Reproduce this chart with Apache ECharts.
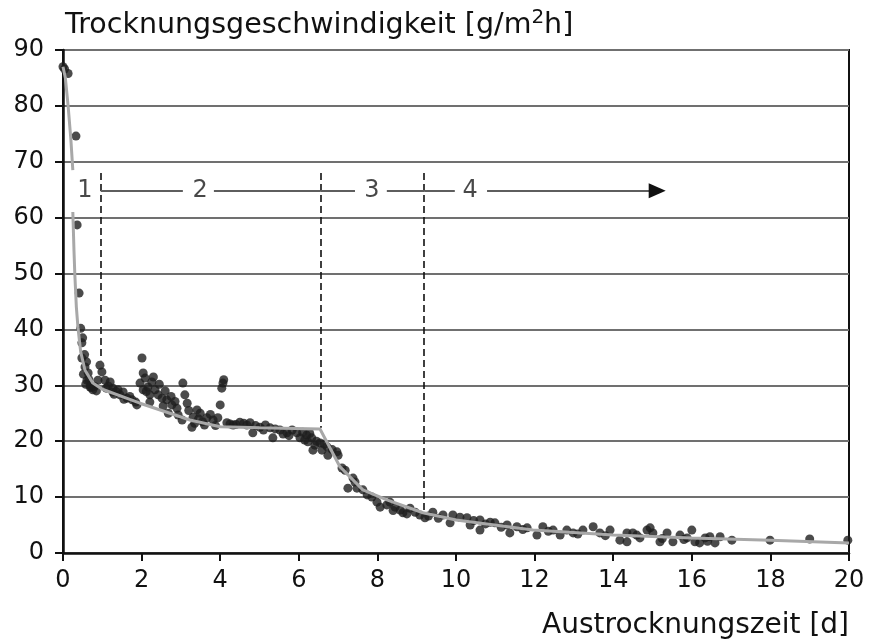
<!DOCTYPE html>
<html>
<head>
<meta charset="utf-8">
<script src="https://cdn.jsdelivr.net/npm/echarts@6/dist/echarts.min.js"></script>
<style>
  html, body { margin: 0; padding: 0; background: #fff; }
  #chart { width: 869px; height: 642px; }
</style>
</head>
<body>
<div id="chart"></div>
<script>
// Messpunkte: Austrocknungszeit [d] / Trocknungsgeschwindigkeit [g/m2h]
const pointT = [0.0, 0.04, 0.13, 0.33, 0.36, 0.41, 0.45, 0.5, 0.48, 0.48, 0.56, 0.64, 0.61, 0.69, 0.76, 0.7,
  0.55, 0.6, 0.66, 0.72, 0.8, 0.94, 0.99, 0.89, 1.07, 1.2, 1.27, 1.4, 1.53, 1.27, 1.45, 1.63, 1.76, 1.88,
  1.1, 1.3, 1.55, 1.7, 2.01, 2.04, 1.96, 2.09, 2.16, 2.26, 2.04, 2.21, 2.34, 2.42, 2.52, 2.64, 2.21, 2.77,
  2.9, 2.3, 2.45, 2.6, 2.75, 2.85, 3.05, 3.1, 3.16, 2.93, 3.03, 3.28, 3.31, 3.41, 3.49, 3.66, 3.82, 3.94,
  3.2, 3.35, 3.6, 3.75, 4.0, 4.04, 4.07, 4.09, 4.17, 4.33, 4.5, 4.68, 4.76, 4.83, 5.01, 5.15, 5.27, 5.34,
  4.25, 4.6, 4.9, 5.4, 5.6, 5.52, 5.7, 5.83, 5.95, 6.03, 6.1, 6.2, 6.23, 6.33, 6.41, 6.36, 6.54, 6.59,
  6.72, 6.74, 6.97, 7.0, 6.45, 6.65, 6.85, 7.1, 7.18, 7.38, 7.43, 7.25, 7.48, 7.63, 7.74, 7.86, 7.99,
  8.07, 8.24, 8.32, 8.45, 8.58, 8.65, 8.83, 8.96, 9.08, 9.21, 9.41, 9.67, 9.85, 9.92, 10.1, 10.28, 10.36,
  10.61, 10.61, 10.87, 10.99, 11.3, 11.37, 11.55, 11.81, 12.06, 12.21, 12.47, 12.65, 12.82, 12.98, 13.23,
  13.49, 13.66, 13.92, 14.17, 14.35, 14.6, 14.86, 14.35, 14.5, 14.68, 14.94, 15.01, 15.19, 15.37, 15.52,
  15.7, 15.88, 16.0, 16.08, 16.2, 16.34, 16.46, 16.59, 16.72, 17.02, 17.99, 19.0, 19.97,
  0.52, 0.58, 0.85, 1.15, 1.35, 1.85, 2.12, 2.55, 2.68, 3.45, 3.55, 3.88, 4.4, 5.1, 5.75, 6.15, 6.28,
  8.4, 8.75, 9.3, 9.55, 10.45, 10.75, 11.15, 11.7, 12.35, 13.1, 13.8, 15.25, 15.8, 16.4];
const pointV = [87.0, 86.6, 85.8, 74.6, 58.7, 46.5, 40.2, 38.5, 37.6, 34.9, 33.3, 32.2, 30.9, 29.7, 29.2, 30.0,
  35.5, 34.2, 31.0, 29.6, 29.8, 33.6, 32.4, 30.9, 30.9, 30.6, 29.5, 29.2, 28.8, 28.8, 28.3, 27.7, 27.4, 26.5,
  29.5, 28.4, 27.5, 28.0, 34.9, 32.2, 30.4, 31.3, 29.7, 30.6, 29.2, 28.3, 29.2, 28.3, 27.7, 27.4, 27.0, 26.5,
  25.9, 31.5, 30.2, 29.0, 28.0, 27.1, 30.4, 28.3, 26.8, 24.7, 23.8, 22.5, 24.3, 25.6, 25.0, 24.2, 23.8, 24.2,
  25.5, 23.2, 22.9, 24.8, 26.5, 29.5, 30.4, 31.0, 23.3, 22.9, 23.4, 22.9, 23.3, 21.5, 22.5, 22.9, 22.4, 20.6,
  23.1, 23.2, 22.8, 22.2, 21.3, 22.0, 21.5, 22.0, 21.5, 20.6, 21.6, 21.1, 19.9, 20.6, 19.3, 18.4, 19.7, 18.4,
  19.0, 17.5, 18.1, 17.5, 20.0, 19.5, 18.5, 15.2, 14.8, 13.4, 12.7, 11.6, 11.6, 11.3, 10.4, 10.0, 9.1,
  8.2, 8.6, 9.1, 8.2, 7.7, 7.2, 8.0, 7.3, 6.8, 6.3, 7.3, 6.8, 5.4, 6.8, 6.4, 6.3, 5.0,
  4.1, 5.9, 5.5, 5.4, 5.0, 3.6, 4.7, 4.5, 3.2, 4.7, 4.1, 3.2, 4.1, 3.6, 4.1,
  4.7, 3.6, 4.1, 2.3, 3.6, 3.2, 4.1, 2.0, 3.6, 2.7, 4.5, 3.6, 2.0, 3.6, 2.0,
  3.2, 2.7, 4.1, 2.0, 1.8, 2.7, 2.9, 1.8, 2.9, 2.3, 2.3, 2.5, 2.3,
  32.0, 30.2, 29.0, 29.9, 28.9, 27.0, 28.9, 26.3, 25.0, 24.0, 23.5, 22.8, 23.0, 22.0, 21.0, 20.2, 21.4,
  7.6, 7.0, 6.6, 6.2, 5.8, 5.2, 4.6, 4.2, 3.9, 3.4, 3.1, 2.6, 2.4, 2.1];

// Ausgleichskurve (null = Lücke)
const fitT = [0, 0.06, 0.13, 0.2, 0.25, 0.25, 0.25, 0.28, 0.3, 0.34, 0.38, 0.45, 0.56, 0.76, 1.0, 1.96,
  3.23, 4.0, 5.0, 6.54, 7.05, 7.63, 8.24, 9.16, 10.0, 11.96, 14.0, 16.0, 18.0, 20.0];
const fitV = [87, 85, 80, 74, 68.5, null, 61, 54, 50, 44, 40.4, 36, 32.7, 30.4, 29.3, 26.8,
  23.8, 22.6, 22.4, 22.2, 15.4, 11.3, 9.5, 7.2, 5.9, 4.1, 3.2, 2.7, 2.3, 1.8];

// Phasen
const phaseBorderT = [0.96, 6.56, 9.19];
const phaseBorderBottom = [34.5, 22.4, 7.3];
const phaseBorderTop = 68;
const phaseNames = ['1', '2', '3', '4'];
const phaseNameT = [0.56, 3.49, 7.86, 10.36];
const phaseLevel = 64.8;
const phaseLineFrom = [0.96, 3.84, 6.56, 8.24, 9.19, 10.79];
const phaseLineTo = [3.05, 6.56, 7.43, 9.19, 9.97, 15.0];
const arrowT = 15.12;

const chart = echarts.init(document.getElementById('chart'));
const font = 'DejaVu Sans';

const borderLines = phaseBorderT.map((t, i) => [
  { coord: [t, phaseBorderTop] },
  { coord: [t, phaseBorderBottom[i]] }
]);
const phaseLines = phaseLineFrom.map((t, i) => [
  { coord: [t, phaseLevel] },
  { coord: [phaseLineTo[i], phaseLevel] }
]);

const option = {
  animation: false,
  backgroundColor: '#fff',
  grid: {
    left: 63, right: 20, top: 50, bottom: 89,
    show: true, borderColor: '#111', borderWidth: 2
  },
  xAxis: {
    type: 'value', min: 0, max: 20, interval: 2,
    name: 'Austrocknungszeit [d]',
    nameLocation: 'end', nameGap: 0,
    nameTextStyle: {
      fontFamily: font, fontSize: 28, color: '#111',
      align: 'right', verticalAlign: 'top', padding: [59, 0, 0, 0]
    },
    axisLine: { lineStyle: { color: '#111', width: 2.5 } },
    axisTick: { show: true, length: 8, inside: false, lineStyle: { color: '#111', width: 2 } },
    axisLabel: { fontFamily: font, fontSize: 24, color: '#111', margin: 16 },
    splitLine: { show: false }
  },
  yAxis: {
    type: 'value', min: 0, max: 90, interval: 10,
    name: '{a|Trocknungsgeschwindigkeit [g/m}{s|2}{a|h]}',
    nameLocation: 'end', nameGap: 10,
    nameTextStyle: {
      align: 'left', verticalAlign: 'bottom', padding: [0, 0, 0, 2],
      rich: {
        a: { fontFamily: font, fontSize: 28.5, color: '#111', verticalAlign: 'bottom', lineHeight: 34 },
        s: { fontFamily: font, fontSize: 20, color: '#111', verticalAlign: 'bottom', lineHeight: 34, padding: [0, 0, 12, 0] }
      }
    },
    axisLine: { show: true, lineStyle: { color: '#111', width: 2.5 } },
    axisTick: { show: true, length: 8, inside: false, lineStyle: { color: '#111', width: 2 } },
    axisLabel: { fontFamily: font, fontSize: 24, color: '#111', margin: 19 },
    splitLine: { show: true, lineStyle: { color: '#707070', width: 2 } }
  },
  series: [
    {
      name: 'Messwerte',
      type: 'scatter',
      symbol: 'circle',
      symbolSize: 9,
      itemStyle: { color: '#1e1e1e' },
      data: pointT.map((t, i) => [t, pointV[i]]),
      markLine: {
        silent: true,
        symbol: ['none', 'none'],
        label: { show: false },
        lineStyle: { color: '#111', type: [7, 4], width: 1.6 },
        data: borderLines
      },
      z: 2
    },
    {
      name: 'Ausgleichskurve',
      type: 'line',
      showSymbol: false,
      connectNulls: false,
      lineStyle: { color: '#a8a8a8', width: 3 },
      data: fitT.map((t, i) => [t, fitV[i] === null ? '-' : fitV[i]]),
      z: 3
    },
    {
      name: 'Phasen',
      type: 'scatter',
      symbolSize: 0,
      label: {
        show: true, position: 'inside',
        fontFamily: font, fontSize: 24, color: '#1a1a1a',
        formatter: (p) => phaseNames[p.dataIndex]
      },
      data: phaseNameT.map((t) => [t, phaseLevel]),
      markLine: {
        silent: true,
        symbol: ['none', 'none'],
        label: { show: false },
        lineStyle: { color: '#5e5e5e', type: 'solid', width: 2 },
        data: phaseLines
      },
      markPoint: {
        silent: true,
        symbol: 'triangle',
        symbolSize: [15, 17],
        symbolRotate: -90,
        itemStyle: { color: '#111' },
        label: { show: false },
        data: [{ coord: [arrowT, phaseLevel] }]
      },
      z: 4
    }
  ]
};

chart.setOption(option);
window.addEventListener('resize', () => chart.resize());
</script>
</body>
</html>
